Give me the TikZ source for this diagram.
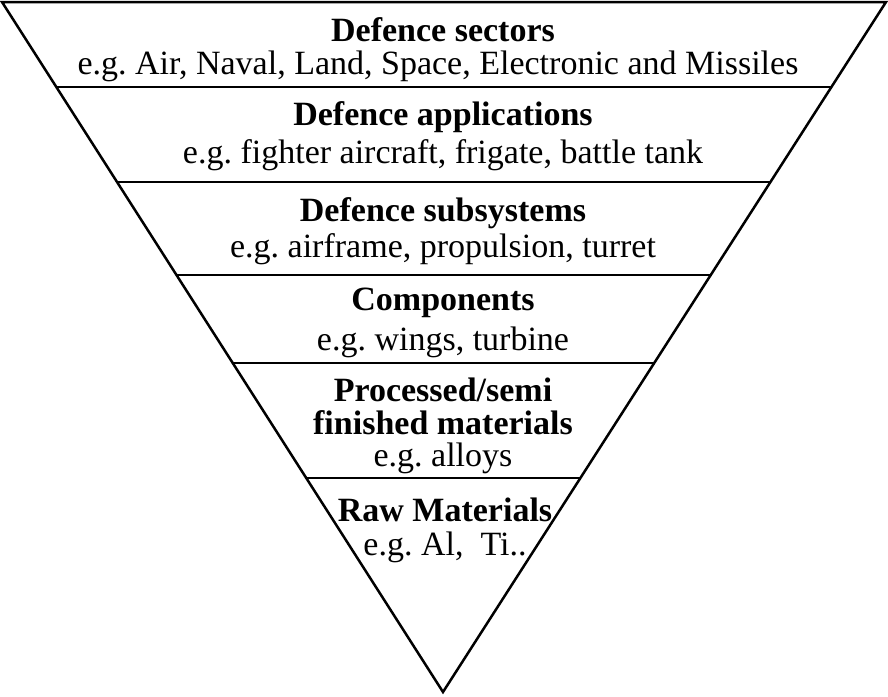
\documentclass[tikz,border=0pt]{standalone}
\usepackage{fontspec}
\setmainfont{Liberation Serif}
\frenchspacing
\begin{document}
\begin{tikzpicture}[x=1pt,y=-1pt,
  ttl/.style={font=\fontsize{34}{37}\selectfont\bfseries,inner sep=0pt},
  sub/.style={font=\fontsize{34}{37}\selectfont,inner sep=0pt},
  sep/.style={line width=2.5pt}]
\useasboundingbox (0,0) rectangle (888,696);
\coordinate (tl) at (2,2); \coordinate (tr) at (886,2); \coordinate (ap) at (443,692);
\draw[line width=2.5pt,line join=miter] (tl) -- (tr) -- (ap) -- cycle;
\draw[sep] (56.3,87) -- (831.7,87);
\draw[sep] (117,182) -- (771,182);
\draw[sep] (176.5,275) -- (711.5,275);
\draw[sep] (232.7,363) -- (655.3,363);
\draw[sep] (306,478) -- (580,478);
\node[ttl] (t1) at (443,30) {Defence sectors};
\node[sub] (s1) at (438,66) {e.g. Air, Naval, Land, Space, Electronic and Missiles};
\node[ttl] (t2) at (443,117) {Defence applications};
\node[sub] (s2) at (443,155) {e.g. fighter aircraft, frigate, battle tank};
\node[ttl] (t3) at (443,213) {Defence subsystems};
\node[sub] (s3) at (443,249) {e.g. airframe, propulsion, turret};
\node[ttl] (t4) at (443,303) {Components};
\node[sub] (s4) at (443,342) {e.g. wings, turbine};
\node[ttl] (t5) at (443,390) {Processed/semi};
\node[ttl] (t6) at (443,423) {finished materials};
\node[sub] (s5) at (443,458) {e.g. alloys};
\node[ttl] (t7) at (445,510) {Raw Materials};
\node[sub] (s6) at (445,547) {e.g. Al,\ \ Ti..};
\end{tikzpicture}
\end{document}
